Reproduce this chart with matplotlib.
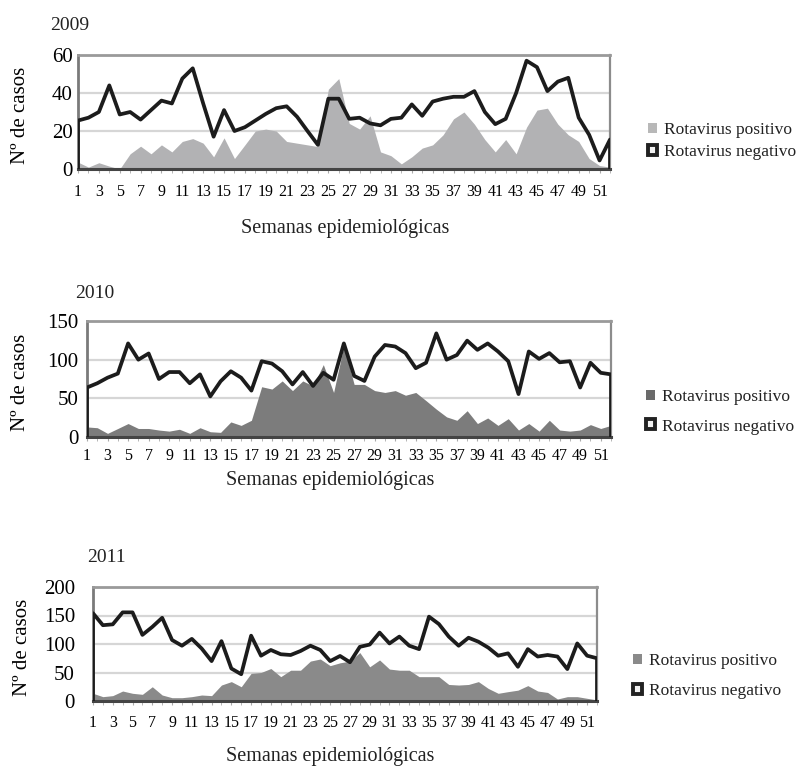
import matplotlib.pyplot as plt
from matplotlib.patches import Patch

plt.rcParams['font.family'] = ['Liberation Serif', 'DejaVu Serif']
plt.rcParams['text.color'] = '#222222'

weeks = list(range(1, 53))
week_labels = list(range(1, 52, 2))
years = ["2009", "2010", "2011"]

neg_2009 = [25.5, 27, 30, 44, 28.7, 30, 26, 31, 36, 34.5,
            47.6, 53, 34.5, 17, 31, 20, 22, 25.5, 29, 32,
            33, 27.5, 20, 12.7, 37, 37, 26.4, 27, 24, 23,
            26.4, 27, 34, 28, 35.5, 37, 38, 38, 41, 30,
            23.6, 26.4, 40, 57, 53.6, 41, 46, 48, 27, 18,
            4.5, 15.5]
pos_2009 = [3.6, 1, 3.3, 1.5, 0, 8, 12, 8, 12.7, 9,
            14.5, 16, 13.6, 6.4, 16.4, 5.5, 12.7, 20, 21, 20,
            14.5, 13.6, 12.7, 11.8, 42, 47.6, 24, 21, 28, 9,
            7, 2.7, 6.4, 11, 12.7, 18, 26.4, 30, 23.6, 15.5,
            9, 15.5, 8, 22, 31, 32, 23.6, 18, 14.5, 5.5,
            1.8, 1]

neg_2010 = [64, 69.5, 76.7, 82, 121, 100, 108, 75, 84, 84,
            69.5, 81, 52.5, 72, 85, 76.7, 60, 98, 95, 85,
            68, 84, 66, 83, 74, 121, 79, 72.5, 104, 119,
            117, 108.5, 89, 96, 134, 100, 106, 124.6, 112.7, 121,
            110.6, 98, 55.5, 110.6, 101, 108.5, 96.6, 98, 64, 96,
            83, 81]
pos_2010 = [13, 12, 4.7, 11, 17.4, 11, 11, 9, 7.6, 10,
            4.7, 12, 6.8, 6, 19.5, 15, 21.6, 65, 62, 72.5,
            60, 72.5, 66, 93.6, 57.6, 118, 68, 68, 60, 57.6,
            60, 54, 57.6, 47, 36, 26, 21.6, 34, 17.4, 24.6,
            15, 23.7, 9, 17.4, 7.6, 21.6, 9, 7.6, 9, 16,
            11, 15]

neg_2011 = [154, 133, 134.5, 155.5, 155.5, 116, 130, 146, 107, 97,
            109, 92, 70, 105, 57, 47, 114.6, 79.5, 89.5, 82,
            80.7, 87.7, 97, 89.5, 70, 79, 68, 95, 99, 120,
            101, 113, 97, 91, 148, 135, 113, 97, 111, 104,
            93.6, 79.5, 83.6, 60, 91, 78, 80.7, 78, 56, 101,
            79.5, 75]
pos_2011 = [13.5, 7.6, 9.4, 17.5, 13.5, 11.7, 25, 10.5, 5.8, 5.8,
            7.6, 10.5, 9.4, 28, 34, 25, 48.5, 50, 57, 42.7,
            54, 54, 70, 73.7, 62, 67, 70, 85, 60, 72,
            56, 54, 54, 42.7, 42.7, 42.7, 29, 28, 29, 34,
            22, 13.5, 16.4, 19, 27, 17.5, 15, 3.5, 7.6, 7.6,
            4.7, 1.8]

y_ticks = [[0, 20, 40, 60], [0, 50, 100, 150], [0, 50, 100, 150, 200]]

W, H = 804, 767


def px_box(left, right, top, bottom):
    return [left / W, 1 - bottom / H, (right - left) / W, (bottom - top) / H]


def draw_panel(ax, neg, pos, yt, fill_color, leg_color, title, title_xy,
               xlabel_xy, ylabel_x, tick_pad, ytick_pad, leg_anchor, leg_spacing):
    ax.fill_between(weeks, 0, pos, color=fill_color, lw=0, zorder=2)
    # area outline of the negative series (vertical edges + top line)
    ax.plot([weeks[0]] + weeks + [weeks[-1]], [0] + neg + [0],
            color='#1c1c1c', lw=2.7, zorder=3, solid_joinstyle='round')
    ax.set_xlim(1, 52)
    ax.set_ylim(0, yt[-1])
    ax.set_yticks(yt)
    ax.set_xticks(week_labels)
    ax.set_xticks(weeks, minor=True)
    ax.grid(axis='y', color='#d6d6d6', lw=1.6, zorder=0)
    ax.set_axisbelow(True)
    for side, col, lw in [('top', '#9a9a9a', 2.0), ('right', '#8c8c8c', 1.6),
                          ('left', '#7a7a7a', 2.0), ('bottom', '#444444', 2.2)]:
        ax.spines[side].set_color(col)
        ax.spines[side].set_linewidth(lw)
    ax.tick_params(axis='x', which='both', length=3, color='#aaaaaa',
                   pad=tick_pad, labelsize=11.5)
    ax.tick_params(axis='y', length=0, pad=ytick_pad, labelsize=15)
    ax.set_ylabel("Nº de casos", fontsize=15)
    ax.yaxis.set_label_coords(ylabel_x, 0.47)
    fig = ax.figure
    fig.text(title_xy[0] / W, 1 - title_xy[1] / H, title, fontsize=14,
             ha='left', va='center')
    fig.text(xlabel_xy[0] / W, 1 - xlabel_xy[1] / H, "Semanas epidemiológicas",
             fontsize=14.5, ha='center', va='center')
    handles = [Patch(facecolor=leg_color, edgecolor='none', label="Rotavirus positivo"),
               Patch(facecolor='#f2f2f2', edgecolor='#222222', lw=2.8,
                     label="Rotavirus negativo")]
    ax.legend(handles=handles, loc='center left', bbox_to_anchor=leg_anchor,
              frameon=False, fontsize=12.5, handlelength=0.5, handleheight=0.5,
              handletextpad=0.4, labelspacing=leg_spacing, borderpad=0,
              borderaxespad=0)


def main():
    fig = plt.figure(figsize=(W / 100, H / 100), dpi=100)

    ax1 = fig.add_axes(px_box(78, 610, 55, 169))
    draw_panel(ax1, neg_2009, pos_2009, y_ticks[0], '#b2b2b4', '#b8b8b8',
               years[0], (50, 25), (345, 228), (30 - 78) / 532, 8, 4,
               ((648 - 78) / 532, (169 - 141) / 114), 0.35)

    ax2 = fig.add_axes(px_box(87, 611, 321, 437))
    draw_panel(ax2, neg_2010, pos_2010, y_ticks[1], '#7c7c7c', '#6a6a6a',
               years[1], (75, 293), (330, 481), (30 - 87) / 524, 5, 6,
               ((646 - 87) / 524, (437 - 412) / 116), 0.75)

    ax3 = fig.add_axes(px_box(93, 597, 587, 701))
    draw_panel(ax3, neg_2011, pos_2011, y_ticks[2], '#8a8a8a', '#8a8a8a',
               years[2], (87, 557), (330, 756), (32 - 93) / 504, 7, 13,
               ((633 - 93) / 504, (701 - 676) / 114), 0.8)

    fig.savefig("out.png", dpi=100)


if __name__ == "__main__":
    main()
